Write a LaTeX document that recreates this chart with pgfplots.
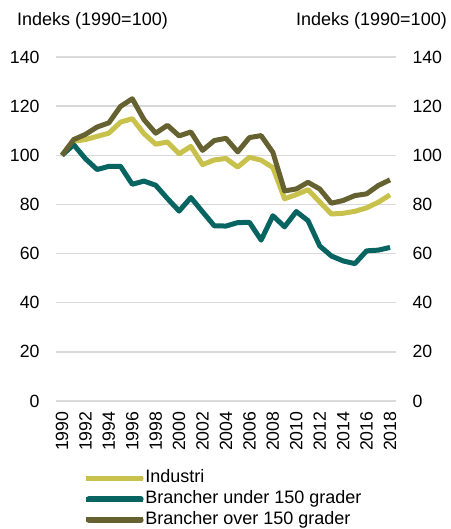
\documentclass[border=0pt]{standalone}
\usepackage{pgfplots}
\pgfplotsset{compat=1.18}
\usepackage{fontspec}
\setmainfont{Liberation Sans}
\definecolor{cInd}{RGB}{200,193,76}
\definecolor{cUnder}{RGB}{8,100,96}
\definecolor{cOver}{RGB}{101,97,48}
\definecolor{cGrid}{RGB}{217,217,217}
\begin{document}
\begin{tikzpicture}[font=\fontsize{18}{21}\selectfont]
\path[use as bounding box] (-56pt,-128pt) rectangle (394pt,401pt);
\pgfplotsset{
  base/.style={
    scale only axis, width=340pt, height=344pt,
    at={(0pt,0pt)}, anchor=south west,
    xmin=1989.49, xmax=2018.51, ymin=0, ymax=140,
    ytick={0,20,...,140},
    xtick={1990,1992,...,2018},
    axis line style={draw=none},
    major tick length=0pt,
    /pgf/number format/assume math mode=true,
    /pgf/number format/1000 sep={},
    tick label style={font=\fontsize{17.7}{20}\selectfont},
  }
}
\begin{axis}[base,
  ymajorgrids, grid style={cGrid, line width=1.5pt},
  yticklabel style={xshift=-13pt},
  xticklabel style={rotate=90, anchor=east, xshift=-7pt, yshift=0pt},
  clip=false,
  legend style={draw=none, fill=none, at={(rel axis cs:0.08,-0.198)}, anchor=north west,
    font=\fontsize{18}{21}\selectfont, inner sep=0pt, row sep=2.8pt,
    nodes={text height=13.5pt, text depth=4.5pt, inner sep=0pt}},
  legend cell align=left,
  legend image code/.code={\path (0pt,0pt) -- (57pt,0pt);\draw[#1, line width=5.5pt, line cap=round] (3pt,0pt) -- (55pt,0pt);},
  every axis plot/.append style={line width=5pt, line join=round},
]
\addplot[cInd, no markers] coordinates {
(1990,100) (1991,105.7) (1992,106.4) (1993,107.7) (1994,109) (1995,113.5) (1996,114.9) (1997,108.8) (1998,104.5) (1999,105.4) (2000,100.6) (2001,103.6) (2002,96.2) (2003,98.1) (2004,98.7) (2005,95.2) (2006,99.2) (2007,98.0) (2008,95.0) (2009,82.3) (2010,84) (2011,86) (2012,81) (2013,76.1) (2014,76.4) (2015,77.2) (2016,78.6) (2017,80.9) (2018,83.9)};
\addlegendentry{Industri}
\addplot[cUnder, no markers] coordinates {
(1990,100) (1991,104.3) (1992,98.6) (1993,94.2) (1994,95.5) (1995,95.5) (1996,88.2) (1997,89.5) (1998,87.8) (1999,82.4) (2000,77.3) (2001,82.8) (2002,77) (2003,71.3) (2004,71.2) (2005,72.6) (2006,72.7) (2007,65.5) (2008,75.4) (2009,70.9) (2010,77.1) (2011,73.4) (2012,63.1) (2013,59) (2014,57) (2015,55.9) (2016,61.1) (2017,61.4) (2018,62.5)};
\addlegendentry{Brancher under 150 grader}
\addplot[cOver, no markers] coordinates {
(1990,100) (1991,106.4) (1992,108.5) (1993,111.5) (1994,113.2) (1995,119.9) (1996,123) (1997,114.5) (1998,109) (1999,112.2) (2000,107.9) (2001,109.5) (2002,102) (2003,106) (2004,106.9) (2005,101.4) (2006,107.2) (2007,108) (2008,101.2) (2009,85.5) (2010,86.3) (2011,89) (2012,86.3) (2013,80.5) (2014,81.6) (2015,83.6) (2016,84.3) (2017,87.7) (2018,90)};
\addlegendentry{Brancher over 150 grader}
\node[anchor=base west, inner sep=0pt] at ([xshift=-39pt, yshift=31pt]rel axis cs:0,1) {Indeks (1990=100)};
\node[anchor=base east, inner sep=0pt] at ([xshift=51pt, yshift=31pt]rel axis cs:1,1) {Indeks (1990=100)};
\end{axis}
\begin{axis}[base,
  axis y line*=right, axis x line=none,
  yticklabel style={xshift=13pt},
]
\addplot[draw=none] coordinates {(1990,0)};
\end{axis}
\end{tikzpicture}
\end{document}
